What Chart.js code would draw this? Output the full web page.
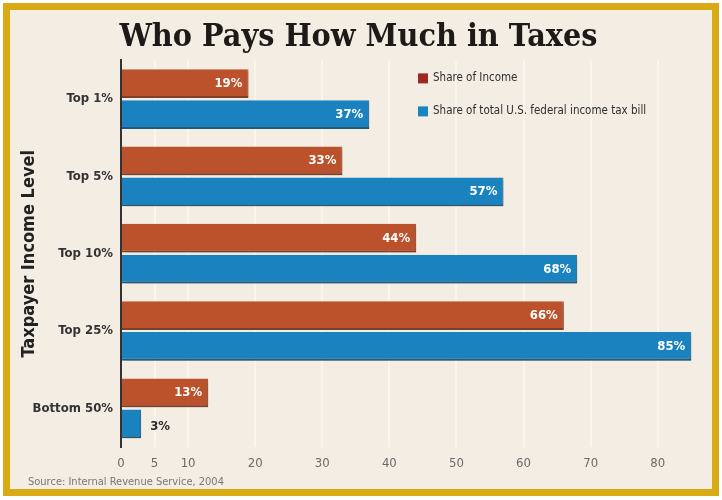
<!DOCTYPE html>
<html>
<head>
<meta charset="utf-8">
<script src="https://cdn.jsdelivr.net/npm/chart.js@4.4.0/dist/chart.umd.min.js"></script>
<style>
  html, body { margin: 0; padding: 0; background: #ffffff; }
  #frame {
    position: absolute; left: 3px; top: 3px; width: 716px; height: 493px;
    box-sizing: border-box; border: 7px solid #d8aa14; background: #f3ede3;
  }
  #wrap { position: absolute; left: 0; top: 0; width: 702px; height: 479px; }
  #source {
    position: absolute; left: 18px; top: 465px;
    font: 11px 'DejaVu Sans Condensed', 'DejaVu Sans', sans-serif; color: #777777;
  }
</style>
</head>
<body>
<div id="frame">
  <div id="wrap"><canvas id="taxCanvas"></canvas></div>
  <div id="source">Source: Internal Revenue Service, 2004</div>
</div>
<script>
const levels = ["Top 1%", "Top 5%", "Top 10%", "Top 25%", "Bottom 50%"];
const shareOfIncome = [19, 33, 44, 66, 13];
const shareOfTax = [37, 57, 68, 85, 3];
const tickValues = [0, 5, 10, 20, 30, 40, 50, 60, 70, 80];

const condensed = "'DejaVu Sans Condensed', 'DejaVu Sans', sans-serif";

// percent labels at the end of each bar
const barLabels = {
    id: "barLabels",
    afterDatasetsDraw(chart) {
        const ctx = chart.ctx;
        ctx.save();
        ctx.font = "bold 13px " + condensed;
        ctx.textBaseline = "middle";
        chart.data.datasets.forEach((ds, i) => {
            chart.getDatasetMeta(i).data.forEach((bar, j) => {
                const v = ds.data[j];
                if (v < 6) {
                    ctx.fillStyle = "#2b2b2b";
                    ctx.textAlign = "left";
                    ctx.fillText(v + "%", bar.x + 9, bar.y + 3);
                } else {
                    ctx.fillStyle = "#ffffff";
                    ctx.textAlign = "right";
                    ctx.fillText(v + "%", bar.x - 6, bar.y);
                }
            });
        });
        ctx.restore();
    }
};

// legend drawn inside the plot, top right
const insideLegend = {
    id: "insideLegend",
    afterDraw(chart) {
        const ctx = chart.ctx;
        const a = chart.chartArea;
        ctx.save();
        ctx.font = "11.5px " + condensed;
        ctx.textBaseline = "middle";
        ctx.textAlign = "left";
        chart.data.datasets.forEach((ds, i) => {
            const x = a.left + 297;
            const y = a.top + 18 + i * 33;
            ctx.fillStyle = ds.legendColor;
            ctx.fillRect(x, y - 5, 10, 10);
            ctx.fillStyle = "#2e2e2e";
            ctx.fillText(ds.label, x + 15, y);
        });
        ctx.restore();
    }
};

// soft shadow behind the bars
const barShadow = {
    id: "barShadow",
    beforeDatasetsDraw(chart) {
        const ctx = chart.ctx;
        ctx.save();
        ctx.shadowColor = "rgba(80,80,80,0.35)";
        ctx.shadowBlur = 3;
        ctx.shadowOffsetX = 3;
        ctx.shadowOffsetY = 3;
    },
    afterDatasetsDraw(chart) {
        chart.ctx.restore();
    }
};

new Chart(document.getElementById("taxCanvas"), {
    type: "bar",
    data: {
        labels: levels,
        datasets: [{
            label: "Share of Income",
            data: shareOfIncome,
            backgroundColor: "#bb522b",
            borderColor: "#8e3a1c",
            borderWidth: { bottom: 2, right: 1, top: 0, left: 0 },
            legendColor: "#9c2a22",
            categoryPercentage: 0.8,
            barPercentage: 0.93
        }, {
            label: "Share of total U.S. federal income tax bill",
            data: shareOfTax,
            backgroundColor: "#1a82be",
            borderColor: "#0e5d8c",
            borderWidth: { bottom: 2, right: 1, top: 0, left: 0 },
            legendColor: "#1a84c0",
            categoryPercentage: 0.8,
            barPercentage: 0.93
        }]
    },
    options: {
        indexAxis: "y",
        responsive: true,
        maintainAspectRatio: false,
        animation: false,
        layout: { padding: { left: 9, right: 14, top: 0, bottom: 14 } },
        scales: {
            x: {
                min: 0,
                max: 86,
                afterBuildTicks: (scale) => {
                    scale.ticks = tickValues.map(v => ({ value: v }));
                },
                grid: { color: "#f9f5ee", lineWidth: 2, drawTicks: false },
                border: { display: false },
                ticks: {
                    padding: 9,
                    color: "#6a6a6a",
                    font: { size: 13, family: condensed },
                    maxRotation: 0
                },
                afterFit: (scale) => { scale.height = 28; }
            },
            y: {
                grid: { display: false, drawTicks: false },
                border: { display: true, color: "#333333", width: 2 },
                ticks: {
                    padding: 8,
                    color: "#333333",
                    font: { size: 13, weight: "bold", family: condensed }
                },
                title: {
                    display: true,
                    text: "Taxpayer Income Level",
                    color: "#222222",
                    font: { size: 18, weight: "bold", family: condensed },
                    padding: { top: 0, bottom: 0 }
                },
                afterFit: (scale) => { scale.width = 102; }
            }
        },
        plugins: {
            legend: { display: false },
            tooltip: { enabled: false },
            title: {
                display: true,
                text: "Who Pays How Much in Taxes",
                color: "#1e1a18",
                font: { size: 32, weight: "bold", family: "'DejaVu Serif Condensed', 'DejaVu Serif', serif" },
                padding: { top: 8, bottom: 4 }
            }
        }
    },
    plugins: [barShadow, barLabels, insideLegend]
});
</script>
</body>
</html>
